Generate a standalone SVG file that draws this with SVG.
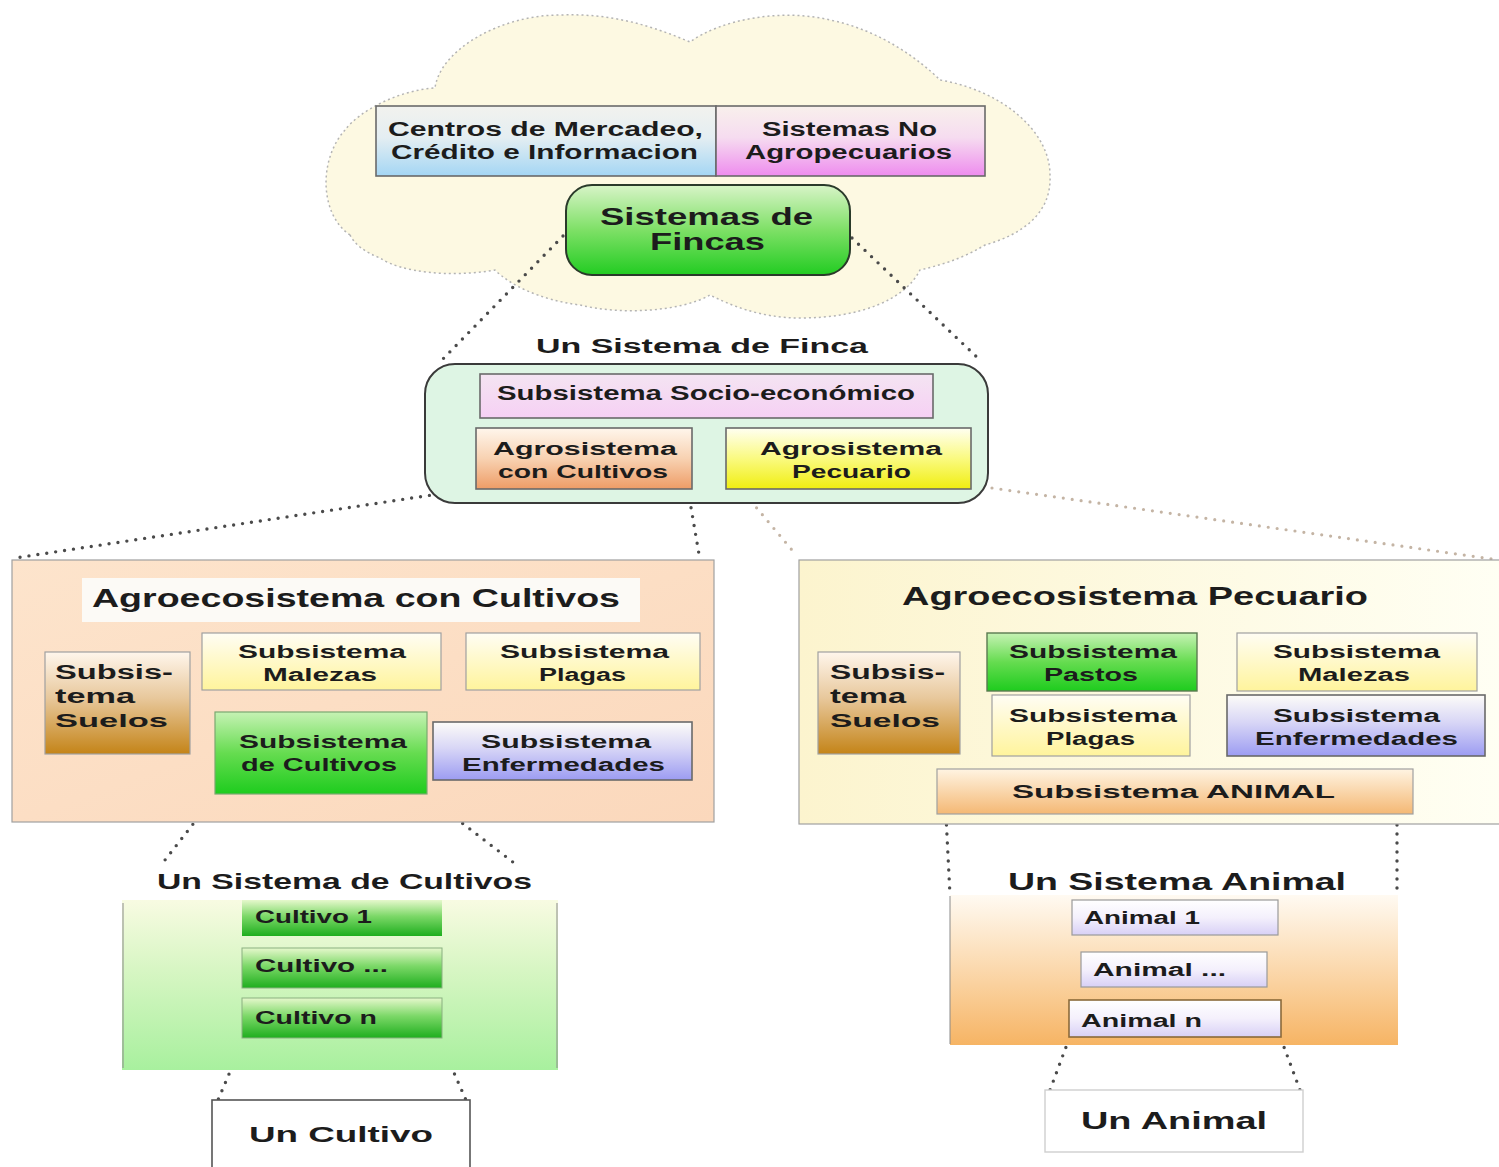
<svg xmlns="http://www.w3.org/2000/svg" width="1499" height="1167" viewBox="0 0 1499 1167">
  <defs>
    <linearGradient id="gBlue" x1="0" y1="0" x2="0" y2="1"><stop offset="0" stop-color="#f2f2ee"/><stop offset="0.45" stop-color="#e4eef2"/><stop offset="1" stop-color="#a4d6f4"/></linearGradient>
    <linearGradient id="gPink" x1="0" y1="0" x2="0" y2="1"><stop offset="0" stop-color="#f8f0ec"/><stop offset="0.45" stop-color="#f6dcf0"/><stop offset="1" stop-color="#ee8cee"/></linearGradient>
    <linearGradient id="gFincas" x1="0" y1="0" x2="0" y2="1"><stop offset="0" stop-color="#d8f4c8"/><stop offset="0.5" stop-color="#7ee066"/><stop offset="1" stop-color="#22cc22"/></linearGradient>
    <linearGradient id="gSocio" x1="0" y1="0" x2="0" y2="1"><stop offset="0" stop-color="#f4e4f2"/><stop offset="1" stop-color="#f6d0f4"/></linearGradient>
    <linearGradient id="gPeach" x1="0" y1="0" x2="0" y2="1"><stop offset="0" stop-color="#fff6ec"/><stop offset="0.5" stop-color="#f8d2b2"/><stop offset="1" stop-color="#ee9c66"/></linearGradient>
    <linearGradient id="gYellow" x1="0" y1="0" x2="0" y2="1"><stop offset="0" stop-color="#fffff2"/><stop offset="0.5" stop-color="#fafa80"/><stop offset="1" stop-color="#f0ee10"/></linearGradient>
    <linearGradient id="gSuelos" x1="0" y1="0" x2="0" y2="1"><stop offset="0" stop-color="#fff6ec"/><stop offset="0.45" stop-color="#e8c89c"/><stop offset="1" stop-color="#c48418"/></linearGradient>
    <linearGradient id="gLtYellow" x1="0" y1="0" x2="0" y2="1"><stop offset="0" stop-color="#fffdf4"/><stop offset="1" stop-color="#fff49c"/></linearGradient>
    <linearGradient id="gGreen" x1="0" y1="0" x2="0" y2="1"><stop offset="0" stop-color="#c6f2b4"/><stop offset="0.5" stop-color="#66dc50"/><stop offset="1" stop-color="#1ecc1e"/></linearGradient>
    <linearGradient id="gLav" x1="0" y1="0" x2="0" y2="1"><stop offset="0" stop-color="#fdfcf8"/><stop offset="0.45" stop-color="#d8d6f6"/><stop offset="1" stop-color="#9c9cf2"/></linearGradient>
    <linearGradient id="gAnimal" x1="0" y1="0" x2="0" y2="1"><stop offset="0" stop-color="#fff4e2"/><stop offset="1" stop-color="#f4b874"/></linearGradient>
    <linearGradient id="gCultBox" x1="0" y1="0" x2="0" y2="1"><stop offset="0" stop-color="#f8fbe2"/><stop offset="0.4" stop-color="#d8f6c4"/><stop offset="1" stop-color="#a8f09e"/></linearGradient>
    <linearGradient id="gCultItem" x1="0" y1="0" x2="0" y2="1"><stop offset="0" stop-color="#e6f8cc"/><stop offset="0.45" stop-color="#7cd868"/><stop offset="1" stop-color="#1eae1e"/></linearGradient>
    <linearGradient id="gAnimBox" x1="0" y1="0" x2="0" y2="1"><stop offset="0" stop-color="#fffaf2"/><stop offset="0.5" stop-color="#fbd8ac"/><stop offset="1" stop-color="#f6b464"/></linearGradient>
    <linearGradient id="gAnimItem" x1="0" y1="0" x2="0" y2="1"><stop offset="0" stop-color="#ffffff"/><stop offset="0.5" stop-color="#f4f0fc"/><stop offset="1" stop-color="#d8d0f6"/></linearGradient>
    <linearGradient id="gPecBox" x1="0" y1="0" x2="1" y2="0"><stop offset="0" stop-color="#fcf4ce"/><stop offset="1" stop-color="#fffff4"/></linearGradient>
    <linearGradient id="gCultLeft" x1="0" y1="0" x2="1" y2="1"><stop offset="0" stop-color="#fde4cc"/><stop offset="1" stop-color="#fbd8bc"/></linearGradient>
    <style>
      .t { font-family: "Liberation Sans", Arial, sans-serif; font-weight: bold; fill: #1c1c1c; }
      .box { stroke: #6a6a6a; stroke-width: 1.6; }
      .lbox { stroke: #a0a0a0; stroke-width: 1.2; }
      .dots { fill: none; stroke: #4a4a4a; stroke-width: 3.4; stroke-linecap: round; stroke-dasharray: 0 9; }
      .dotsLt { fill: none; stroke: #c4b4a4; stroke-width: 3.2; stroke-linecap: round; stroke-dasharray: 0 9; }
      .s18 { font-size: 18px; }
      .s20 { font-size: 20px; }
      .s22 { font-size: 22px; }
      .s24 { font-size: 24px; }
      .s26 { font-size: 26px; }
    </style>
  </defs>

  <rect x="0" y="0" width="1499" height="1167" fill="#ffffff"/>

  <!-- cloud: farm systems environment -->
  <g id="cloud">
    <path d="M 350,235 C 320,215 318,160 345,130 C 360,110 400,90 435,88 C 440,50 500,15 560,15 C 610,13 650,25 690,42 C 720,20 780,8 830,20 C 880,30 920,60 940,80 C 1000,90 1050,130 1050,175 C 1052,215 1020,235 985,245 C 960,260 940,265 920,270 C 905,300 860,318 800,318 C 760,318 730,305 710,295 C 680,312 620,315 580,305 C 540,300 510,285 495,270 C 450,278 400,272 380,258 C 365,252 355,245 350,235 Z" fill="#fdf9e2" stroke="#b4b4b4" stroke-width="1.5" stroke-dasharray="2 3"/>
  </g>

  <!-- connectors -->
  <g id="connectors">
    <line class="dots" x1="563" y1="236" x2="440" y2="362"/>
    <line class="dots" x1="852" y1="238" x2="982" y2="362"/>
    <line class="dots" x1="465" y1="490" x2="15" y2="558"/>
    <line class="dots" x1="688" y1="490" x2="700" y2="560"/>
    <line class="dotsLt" x1="745" y1="494" x2="797" y2="556"/>
    <line class="dotsLt" x1="992" y1="488" x2="1499" y2="560"/>
    <line class="dots" x1="215" y1="796" x2="165" y2="860"/>
    <line class="dots" x1="427" y1="796" x2="518" y2="866"/>
    <line class="dots" x1="946" y1="816" x2="950" y2="895" stroke-width="2.4"/>
    <line class="dots" x1="1397" y1="816" x2="1397" y2="895" stroke-width="2.4"/>
    <line class="dots" x1="243" y1="1041" x2="218" y2="1100"/>
    <line class="dots" x1="440" y1="1041" x2="466" y2="1100"/>
    <line class="dots" x1="1069" y1="1039" x2="1050" y2="1090"/>
    <line class="dots" x1="1281" y1="1039" x2="1300" y2="1090"/>
  </g>

  <g id="centros">
    <rect class="box" x="376" y="106" width="340" height="70" fill="url(#gBlue)"/>
    <text class="t s20" x="388" y="136" textLength="315" lengthAdjust="spacingAndGlyphs" fill="#1c2a36">Centros de Mercadeo,</text>
    <text class="t s20" x="391" y="159" textLength="307" lengthAdjust="spacingAndGlyphs" fill="#1c2a36">Crédito e Informacion</text>
  </g>

  <g id="no-agro">
    <rect class="box" x="716" y="106" width="269" height="70" fill="url(#gPink)"/>
    <text class="t s20" x="762" y="136" textLength="175" lengthAdjust="spacingAndGlyphs" fill="#3a1442">Sistemas No</text>
    <text class="t s20" x="745" y="159" textLength="207" lengthAdjust="spacingAndGlyphs" fill="#3a1442">Agropecuarios</text>
  </g>

  <g id="fincas">
    <rect x="566" y="185" width="284" height="90" rx="26" fill="url(#gFincas)" stroke="#2a3a2a" stroke-width="2"/>
    <text class="t s24" x="600" y="225" textLength="213" lengthAdjust="spacingAndGlyphs" fill="#143a14">Sistemas de</text>
    <text class="t s24" x="650" y="250" textLength="115" lengthAdjust="spacingAndGlyphs" fill="#143a14">Fincas</text>
  </g>

  <g id="finca">
    <text class="t s20" x="536" y="353" textLength="332" lengthAdjust="spacingAndGlyphs" fill="#2a2a2a">Un Sistema de Finca</text>
    <rect x="425" y="364" width="563" height="139" rx="30" fill="#def5e4" stroke="#3a3a3a" stroke-width="2"/>
  </g>

  <g id="socio">
    <rect class="box" x="480" y="374" width="453" height="44" fill="url(#gSocio)"/>
    <text class="t s20" x="497" y="400" textLength="418" lengthAdjust="spacingAndGlyphs" fill="#3a1a48">Subsistema Socio-económico</text>
  </g>

  <g id="agro-cultivos">
    <rect class="box" x="476" y="428" width="216" height="61" fill="url(#gPeach)" stroke="#3a3a3a"/>
    <text class="t s18" x="493" y="455" textLength="184" lengthAdjust="spacingAndGlyphs">Agrosistema</text>
    <text class="t s18" x="498" y="478" textLength="170" lengthAdjust="spacingAndGlyphs">con Cultivos</text>
  </g>

  <g id="agro-pecuario">
    <rect class="box" x="726" y="428" width="245" height="61" fill="url(#gYellow)" stroke="#3a3a3a"/>
    <text class="t s18" x="760" y="455" textLength="182" lengthAdjust="spacingAndGlyphs">Agrosistema</text>
    <text class="t s18" x="792" y="478" textLength="119" lengthAdjust="spacingAndGlyphs">Pecuario</text>
  </g>

  <!-- crop agroecosystem -->
  <g id="agroeco-cultivos">
    <rect class="lbox" x="12" y="560" width="702" height="262" fill="url(#gCultLeft)" stroke="#909090"/>
    <rect x="82" y="578" width="558" height="44" fill="#fcfaf6"/>
    <text class="t s26" x="92" y="607" textLength="528" lengthAdjust="spacingAndGlyphs">Agroecosistema con Cultivos</text>
  </g>

  <g id="suelos-c">
    <rect class="lbox" x="45" y="652" width="145" height="102" fill="url(#gSuelos)" stroke="#8a7a60"/>
    <text class="t s20" x="55" y="679" textLength="118" lengthAdjust="spacingAndGlyphs" fill="#3a2a1a">Subsis-</text>
    <text class="t s20" x="55" y="703" textLength="80" lengthAdjust="spacingAndGlyphs" fill="#3a2a1a">tema</text>
    <text class="t s18" x="55" y="727" textLength="113" lengthAdjust="spacingAndGlyphs" fill="#3a2a1a">Suelos</text>
  </g>

  <g id="malezas-c">
    <rect class="lbox" x="202" y="633" width="239" height="57" fill="url(#gLtYellow)"/>
    <text class="t s18" x="238" y="658" textLength="168" lengthAdjust="spacingAndGlyphs" fill="#333">Subsistema</text>
    <text class="t s18" x="263" y="681" textLength="114" lengthAdjust="spacingAndGlyphs" fill="#333">Malezas</text>
  </g>

  <g id="plagas-c">
    <rect class="lbox" x="466" y="633" width="234" height="57" fill="url(#gLtYellow)"/>
    <text class="t s18" x="500" y="658" textLength="169" lengthAdjust="spacingAndGlyphs" fill="#333">Subsistema</text>
    <text class="t s18" x="539" y="681" textLength="87" lengthAdjust="spacingAndGlyphs" fill="#333">Plagas</text>
  </g>

  <g id="cultivos-c">
    <rect x="215" y="712" width="212" height="82" fill="url(#gGreen)" stroke="#7aa870" stroke-width="1.2"/>
    <text class="t s18" x="239" y="748" textLength="168" lengthAdjust="spacingAndGlyphs" fill="#1a3a1a">Subsistema</text>
    <text class="t s18" x="241" y="771" textLength="156" lengthAdjust="spacingAndGlyphs" fill="#1a3a1a">de Cultivos</text>
  </g>

  <g id="enfermedades-c">
    <rect class="box" x="433" y="722" width="259" height="58" fill="url(#gLav)"/>
    <text class="t s18" x="481" y="748" textLength="170" lengthAdjust="spacingAndGlyphs" fill="#1c1c50">Subsistema</text>
    <text class="t s18" x="462" y="771" textLength="203" lengthAdjust="spacingAndGlyphs" fill="#1c1c50">Enfermedades</text>
  </g>

  <!-- livestock agroecosystem -->
  <g id="agroeco-pecuario">
    <rect class="lbox" x="799" y="560" width="710" height="264" fill="url(#gPecBox)" stroke="#909090"/>
    <text class="t s26" x="902" y="605" textLength="466" lengthAdjust="spacingAndGlyphs">Agroecosistema  Pecuario</text>
  </g>

  <g id="suelos-p">
    <rect class="lbox" x="818" y="652" width="142" height="102" fill="url(#gSuelos)" stroke="#8a7a60"/>
    <text class="t s20" x="830" y="679" textLength="115" lengthAdjust="spacingAndGlyphs" fill="#3a2a1a">Subsis-</text>
    <text class="t s20" x="830" y="703" textLength="76" lengthAdjust="spacingAndGlyphs" fill="#3a2a1a">tema</text>
    <text class="t s18" x="830" y="727" textLength="110" lengthAdjust="spacingAndGlyphs" fill="#3a2a1a">Suelos</text>
  </g>

  <g id="pastos-p">
    <rect x="987" y="633" width="210" height="58" fill="url(#gGreen)" stroke="#5a7a50" stroke-width="1.4"/>
    <text class="t s18" x="1009" y="658" textLength="168" lengthAdjust="spacingAndGlyphs" fill="#1a3a1a">Subsistema</text>
    <text class="t s18" x="1044" y="681" textLength="94" lengthAdjust="spacingAndGlyphs" fill="#1a3a1a">Pastos</text>
  </g>

  <g id="malezas-p">
    <rect class="lbox" x="1237" y="633" width="240" height="58" fill="url(#gLtYellow)" stroke="#8a8a7a"/>
    <text class="t s18" x="1273" y="658" textLength="167" lengthAdjust="spacingAndGlyphs" fill="#333">Subsistema</text>
    <text class="t s18" x="1298" y="681" textLength="112" lengthAdjust="spacingAndGlyphs" fill="#333">Malezas</text>
  </g>

  <g id="plagas-p">
    <rect class="lbox" x="992" y="695" width="198" height="61" fill="url(#gLtYellow)" stroke="#8a8a7a"/>
    <text class="t s18" x="1009" y="722" textLength="168" lengthAdjust="spacingAndGlyphs" fill="#333">Subsistema</text>
    <text class="t s18" x="1046" y="745" textLength="89" lengthAdjust="spacingAndGlyphs" fill="#333">Plagas</text>
  </g>

  <g id="enfermedades-p">
    <rect class="box" x="1227" y="695" width="258" height="61" fill="url(#gLav)"/>
    <text class="t s18" x="1273" y="722" textLength="167" lengthAdjust="spacingAndGlyphs" fill="#1c1c50">Subsistema</text>
    <text class="t s18" x="1255" y="745" textLength="203" lengthAdjust="spacingAndGlyphs" fill="#1c1c50">Enfermedades</text>
  </g>

  <g id="animal-p">
    <rect class="lbox" x="937" y="769" width="476" height="45" fill="url(#gAnimal)" stroke="#8a7a6a"/>
    <text class="t s18" x="1012" y="798" textLength="323" lengthAdjust="spacingAndGlyphs" fill="#2a2a2a">Subsistema  ANIMAL</text>
  </g>

  <!-- crop system -->
  <g id="sistema-cultivos">
    <text class="t s22" x="157" y="889" textLength="375" lengthAdjust="spacingAndGlyphs">Un Sistema de Cultivos</text>
    <rect x="122" y="900" width="436" height="170" fill="url(#gCultBox)"/>
    <line x1="123" y1="903" x2="123" y2="1068" stroke="#8a8a8a" stroke-width="1"/>
    <line x1="557" y1="903" x2="557" y2="1068" stroke="#8a8a8a" stroke-width="1"/>
  </g>

  <g id="cultivo-1">
    <rect x="242" y="900" width="200" height="36" fill="url(#gCultItem)"/>
    <text class="t s18" x="255" y="923" textLength="117" lengthAdjust="spacingAndGlyphs" fill="#143a14">Cultivo 1</text>
  </g>
  <g id="cultivo-x">
    <rect x="242" y="948" width="200" height="40" fill="url(#gCultItem)" stroke="#8ab080" stroke-width="1"/>
    <text class="t s18" x="255" y="972" textLength="133" lengthAdjust="spacingAndGlyphs" fill="#143a14">Cultivo ...</text>
  </g>
  <g id="cultivo-n">
    <rect x="242" y="998" width="200" height="40" fill="url(#gCultItem)" stroke="#8ab080" stroke-width="1"/>
    <text class="t s18" x="255" y="1024" textLength="122" lengthAdjust="spacingAndGlyphs" fill="#143a14">Cultivo n</text>
  </g>

  <g id="un-cultivo">
    <rect x="212" y="1100" width="258" height="70" fill="#ffffff" stroke="#555555" stroke-width="1.6"/>
    <text class="t s22" x="249" y="1142" textLength="184" lengthAdjust="spacingAndGlyphs">Un Cultivo</text>
  </g>

  <!-- animal system -->
  <g id="sistema-animal">
    <rect x="950" y="895" width="448" height="150" fill="url(#gAnimBox)"/>
    <line x1="950" y1="896" x2="950" y2="1044" stroke="#8a8a8a" stroke-width="1"/>
    <text class="t s24" x="1008" y="890" textLength="338" lengthAdjust="spacingAndGlyphs">Un Sistema  Animal</text>
  </g>

  <g id="animal-1">
    <rect x="1072" y="900" width="206" height="35" fill="url(#gAnimItem)" stroke="#9a9a9a" stroke-width="1.2"/>
    <text class="t s18" x="1084" y="924" textLength="116" lengthAdjust="spacingAndGlyphs">Animal 1</text>
  </g>
  <g id="animal-x">
    <rect x="1081" y="952" width="186" height="35" fill="url(#gAnimItem)" stroke="#9a9a9a" stroke-width="1.2"/>
    <text class="t s18" x="1093" y="976" textLength="133" lengthAdjust="spacingAndGlyphs">Animal ...</text>
  </g>
  <g id="animal-n">
    <rect x="1069" y="1000" width="212" height="37" fill="url(#gAnimItem)" stroke="#8a6a3a" stroke-width="1.6"/>
    <text class="t s18" x="1081" y="1027" textLength="121" lengthAdjust="spacingAndGlyphs">Animal n</text>
  </g>

  <g id="un-animal">
    <rect x="1045" y="1090" width="258" height="62" fill="#ffffff" stroke="#cfcfcf" stroke-width="1.4"/>
    <text class="t s24" x="1081" y="1129" textLength="186" lengthAdjust="spacingAndGlyphs">Un  Animal</text>
  </g>
</svg>
